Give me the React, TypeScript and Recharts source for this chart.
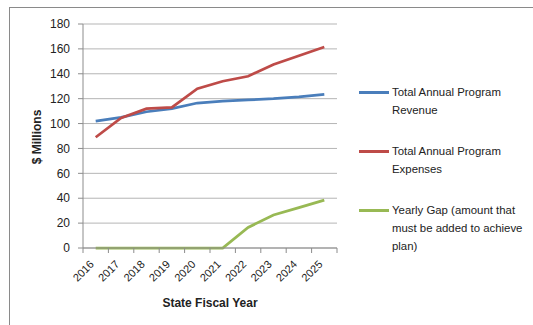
import { LineChart, Line, XAxis, YAxis, CartesianGrid } from 'recharts';

// ─── data ─────────────────────────────────────────────────────────────────────

const YEARS = [2016, 2017, 2018, 2019, 2020, 2021, 2022, 2023, 2024, 2025];
const REVENUE = [102, 105, 109.5, 112, 116.5, 118, 119, 120, 121.5, 123.5];
const EXPENSES = [89, 104.5, 112, 113, 128, 134, 138, 147.5, 154.5, 161.5];
const GAP = [0, 0, 0, 0, 0, 0, 16.5, 26.5, 32.5, 38.5];
const Y_TICKS = [0, 20, 40, 60, 80, 100, 120, 140, 160, 180];

const SERIES = [
  { key: 'revenue', name: 'Total Annual Program Revenue', color: '#4a7ebb', lines: ['Total Annual Program', 'Revenue'] },
  { key: 'expenses', name: 'Total Annual Program Expenses', color: '#be4b48', lines: ['Total Annual Program', 'Expenses'] },
  { key: 'gap', name: 'Yearly Gap', color: '#98b954', lines: ['Yearly Gap (amount that', 'must be added to achieve', 'plan)'] },
];

const data = YEARS.map((year, i) => ({
  year,
  revenue: REVENUE[i],
  expenses: EXPENSES[i],
  gap: GAP[i],
}));

// labels at the years, tick marks at the category boundaries
const X_TICKS = [YEARS[0] - 0.5, ...YEARS.flatMap((y) => [y, y + 0.5])];

const FONT = '"Liberation Sans", Arial, sans-serif';
const AXIS_GREY = '#8c8c8c';
const GRID_GREY = '#b5b5b5';

// ─── pieces ───────────────────────────────────────────────────────────────────

function XTick({ x, y, payload }: any) {
  const v = payload.value;
  if (!Number.isInteger(v)) {
    return <line x1={x} x2={x} y1={y} y2={y + 5} stroke={AXIS_GREY} strokeWidth={1} />;
  }
  const tx = x - 1;
  const ty = y + 17;
  return (
    <text
      x={tx}
      y={ty}
      transform={`rotate(-45 ${tx} ${ty})`}
      textAnchor="end"
      fontSize={11}
      fontFamily={FONT}
      fill="#222"
    >
      {v}
    </text>
  );
}

export default function App() {
  return (
    <div style={{ position: 'absolute', left: 0, top: 0, width: 533, height: 325, background: '#fff', overflow: 'hidden' }}>
      <div style={{ position: 'absolute', left: 0, top: 0 }}>
        <LineChart width={533} height={325} data={data} margin={{ top: 24, right: 196, left: 0, bottom: 0 }}>
          <CartesianGrid vertical={false} stroke={GRID_GREY} strokeWidth={1} />
          <XAxis
            dataKey="year"
            type="number"
            domain={[YEARS[0] - 0.5, YEARS[YEARS.length - 1] + 0.5]}
            ticks={X_TICKS}
            interval={0}
            height={77}
            tickSize={0}
            tickMargin={0}
            tickLine={false}
            axisLine={{ stroke: AXIS_GREY }}
            tick={<XTick />}
            label={{
              content: ({ viewBox }: any) => (
                <text
                  x={viewBox.x + viewBox.width / 2}
                  y={307}
                  textAnchor="middle"
                  fontSize={12}
                  fontWeight="bold"
                  fontFamily={FONT}
                  fill="#222"
                >
                  State Fiscal Year
                </text>
              ),
            }}
          />
          <YAxis
            domain={[0, 180]}
            ticks={Y_TICKS}
            width={83}
            tickSize={5}
            tickMargin={8}
            tickLine={{ stroke: AXIS_GREY }}
            axisLine={{ stroke: AXIS_GREY }}
            tick={{ fontSize: 12, fontFamily: FONT, fill: '#222' }}
            label={{
              content: ({ viewBox }: any) => {
                const cx = 37;
                const cy = viewBox.y + viewBox.height / 2 + 1;
                return (
                  <text
                    x={cx}
                    y={cy}
                    transform={`rotate(-90 ${cx} ${cy})`}
                    textAnchor="middle"
                    dominantBaseline="central"
                    fontSize={12}
                    fontWeight="bold"
                    fontFamily={FONT}
                    fill="#222"
                  >
                    $ Millions
                  </text>
                );
              },
            }}
          />
          {SERIES.map((s) => (
            <Line
              key={s.key}
              type="linear"
              dataKey={s.key}
              name={s.name}
              stroke={s.color}
              strokeWidth={2.75}
              dot={false}
              isAnimationActive={false}
            />
          ))}
        </LineChart>
      </div>

      {/* chart frame (top + left edges visible) */}
      <div style={{
        position: 'absolute', left: 9, top: 7, width: 540, height: 330,
        borderTop: '1px solid #8a8a8a', borderLeft: '1px solid #8a8a8a',
        pointerEvents: 'none',
      }} />

      {/* legend */}
      <div style={{ position: 'absolute', left: 359, top: 83, fontFamily: FONT, fontSize: 11.4, color: '#222' }}>
        {SERIES.map((s) => (
          <div key={s.key} style={{ display: 'flex', alignItems: 'flex-start', marginBottom: 23 }}>
            <div style={{ width: 30, height: 3, background: s.color, marginTop: 8, marginRight: 3 }} />
            <div style={{ lineHeight: '18px', whiteSpace: 'nowrap' }}>
              {s.lines.map((l, i) => <div key={i}>{l}</div>)}
            </div>
          </div>
        ))}
      </div>
    </div>
  );
}
